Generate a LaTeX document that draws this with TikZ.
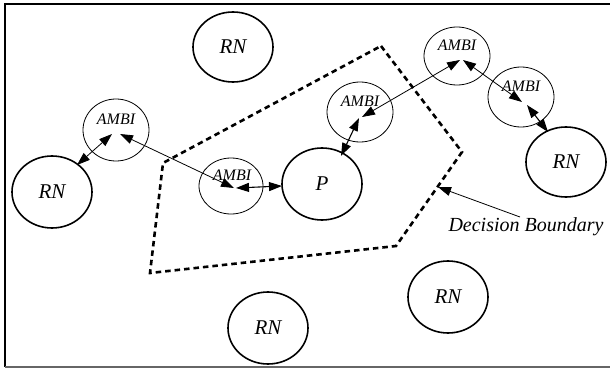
\documentclass[tikz,border=0pt]{standalone}
\usepackage{fontspec}
\setmainfont{Liberation Serif}
\usetikzlibrary{shapes.geometric,arrows.meta}
\begin{document}
\begin{tikzpicture}[x=1pt,y=-1pt,
  rnnode/.style={ellipse,draw,line width=1.6pt,inner sep=0pt,
    minimum width=80pt,minimum height=72pt,font=\fontsize{21}{23}\selectfont\itshape},
  ambinode/.style={ellipse,draw,line width=0.8pt,inner sep=0pt,
    minimum width=66pt,minimum height=60pt},
  ambitext/.style={font=\fontsize{16}{17}\selectfont\itshape,inner sep=0pt},
  link/.style={line width=0.8pt,{Triangle[length=13pt,width=9pt]}-{Triangle[length=13pt,width=9pt]}},
  boundary/.style={line width=2.6pt,dash pattern=on 5.5pt off 4pt,line join=miter}
]
\useasboundingbox (0,0) rectangle (610,369);

% frame
\draw[line width=1.5pt] (610,4) -- (5,4) -- (5,367);
\draw[line width=1.5pt,black!60] (5,367) -- (610,367);

% decision boundary
\draw[boundary] (381,46) -- (462,152) -- (396,246) -- (150,273) -- (163,163) -- cycle;

% RN and P nodes
\node[rnnode,minimum height=70pt] (rn1) at (233,47) {RN};
\node[rnnode] (rn2) at (52,192) {RN};
\node[rnnode,minimum height=70pt] (rn3) at (566,162) {RN};
\node[rnnode] (rn4) at (268,328) {RN};
\node[rnnode] (rn5) at (448,297) {RN};
\node[rnnode] (p) at (322,184) {P};

% AMBI nodes
\node[ambinode,minimum height=62pt] (a1) at (116,130) {};
\node[ambinode,minimum width=64pt,minimum height=56pt] (a2) at (231,186) {};
\node[ambinode] (a3) at (360,112) {};
\node[ambinode,minimum height=58pt] (a4) at (457,56) {};
\node[ambinode] (a5) at (521,97) {};
\node[ambitext] (t1) at (116,119) {AMBI};
\node[ambitext] (t2) at (232,175) {AMBI};
\node[ambitext] (t3) at (360,101) {AMBI};
\node[ambitext] (t4) at (457,45) {AMBI};
\node[ambitext] (t5) at (521,86) {AMBI};

% connector end points
\coordinate (e1a) at (112,134);
\coordinate (e1b) at (77,165);
\coordinate (e2a) at (120,134);
\coordinate (e2b) at (234,188);
\coordinate (e3a) at (236,188);
\coordinate (e3b) at (282,186);
\coordinate (e4a) at (341,156);
\coordinate (e4b) at (359,118);
\coordinate (e5a) at (362,117);
\coordinate (e5b) at (460,60);
\coordinate (e6a) at (463,60);
\coordinate (e6b) at (522,102);
\coordinate (e7a) at (527,105);
\coordinate (e7b) at (548,132);

\draw[link] (e1a) -- (e1b);
\draw[link] (e2a) -- (e2b);
\draw[link,line width=1.1pt] (e3a) -- (e3b);
\draw[link,line width=1.1pt] (e4a) -- (e4b);
\draw[link] (e5a) -- (e5b);
\draw[link] (e6a) -- (e6b);
\draw[link,line width=1.1pt] (e7a) -- (e7b);

% boundary label
\node[font=\fontsize{20}{21}\selectfont\itshape,inner sep=0pt] (db) at (526,227) {Decision Boundary};
\coordinate (dbtail) at (520,217);
\coordinate (dbtip) at (438,187);
\draw[line width=0.8pt,-{Triangle[length=13pt,width=9pt]}] (dbtail) -- (dbtip);
\end{tikzpicture}
\end{document}
